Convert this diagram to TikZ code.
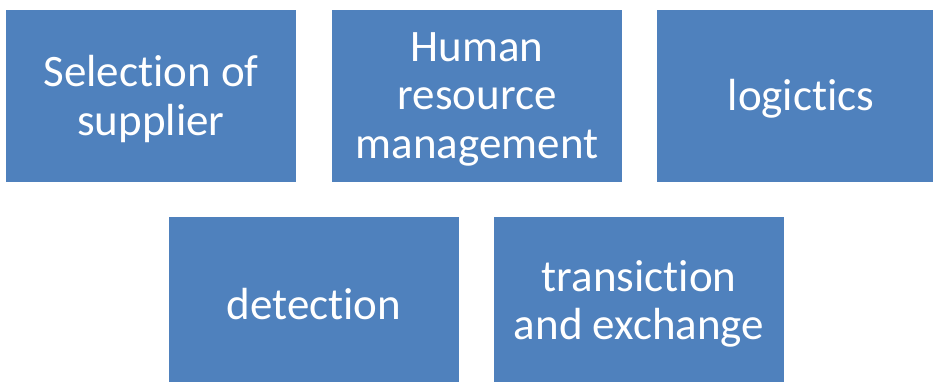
\documentclass[tikz,border=0pt]{standalone}
\usepackage{fontspec}
\setmainfont{Carlito}[Ligatures={NoCommon}]
\definecolor{boxblue}{HTML}{4F81BD}
\begin{document}
\begin{tikzpicture}[x=1pt,y=-1pt,
  blk/.style={fill=boxblue, draw=none},
  lbl/.style={text=white, align=center, font=\fontsize{45}{48.5}\selectfont, inner sep=0pt}]
\useasboundingbox (0,0) rectangle (933,382);
\fill[white] (0,0) rectangle (933,382);
\path[blk] (6,10) rectangle (296,182);
\path[blk] (332,10) rectangle (622,182);
\path[blk] (657,10) rectangle (933,182);
\path[blk] (169,217) rectangle (459,382);
\path[blk] (494,217) rectangle (784,382);
\node[lbl] (a) at (151,99) {Selection of\\supplier};
\node[lbl] (b) at (477,99) {Human\\resource\\management};
\node[lbl] (c) at (801,99) {logictics};
\node[lbl] (d) at (314,304) {detection};
\node[lbl] (e) at (639,304) {transiction\\and exchange};
\end{tikzpicture}
\end{document}
